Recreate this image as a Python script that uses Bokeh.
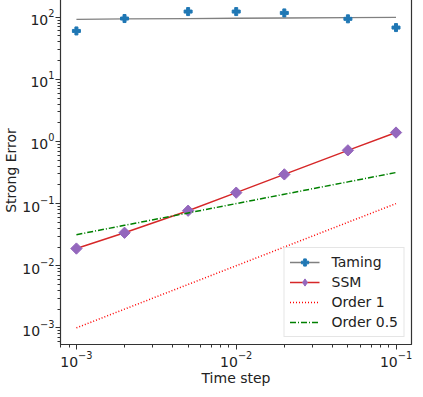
import numpy as np
from bokeh.plotting import figure
from bokeh.models import Range1d, Legend, LegendItem, LogTicker
from bokeh.embed import file_html
from bokeh.resources import INLINE

dt = [0.001, 0.002, 0.005, 0.01, 0.02, 0.05, 0.1]
taming = [60, 95, 123, 123, 117, 94, 68]
taming_fit = [92, 93.5, 95, 96, 97, 98.5, 99.5]
ssm = [0.0189, 0.0339, 0.0768, 0.150, 0.295, 0.719, 1.39]
order1 = [1e-3, 2e-3, 5e-3, 1e-2, 2e-2, 5e-2, 1e-1]
order05 = [0.0316, 0.0447, 0.0707, 0.1, 0.1414, 0.2236, 0.3162]

FONT = "DejaVu Sans"

p = figure(width=415, height=394, x_axis_type="log", y_axis_type="log",
           output_backend="svg", toolbar_location=None,
           x_range=Range1d(7.95e-4, 0.125), y_range=Range1d(5.4e-4, 215),
           min_border_top=2, min_border_right=4, min_border_left=0, min_border_bottom=0)
p.styles = {"margin-top": "-6px"}

p.xgrid.visible = False
p.ygrid.visible = False
p.outline_line_color = "#333333"
p.outline_line_width = 1.2

for ax in (p.xaxis[0], p.yaxis[0]):
    ax.major_label_text_font = FONT
    ax.major_label_text_font_size = "14px"
    ax.major_label_text_color = "#222222"
    ax.major_label_standoff = 1
    ax.axis_label_text_font = FONT
    ax.axis_label_text_font_size = "14px"
    ax.axis_label_text_font_style = "normal"
    ax.axis_label_text_color = "#222222"
    ax.axis_line_color = "#333333"
    ax.major_tick_line_color = "#333333"
    ax.minor_tick_line_color = "#333333"
    ax.major_tick_out = 5
    ax.major_tick_in = 0
    ax.minor_tick_out = 3
    ax.minor_tick_in = 0
    ax.ticker = LogTicker(num_minor_ticks=10)

p.xaxis.axis_label = "Time step"
p.yaxis.axis_label = "Strong Error"
p.xaxis.axis_label_standoff = 0
p.yaxis.axis_label_standoff = 0

r_tfit = p.line(dt, taming_fit, line_color="grey", line_width=1.3)
r_tpts = p.scatter(dt, taming, marker="plus", size=8, color="#1f77b4")
r_sline = p.line(dt, ssm, line_color="#d62728", line_width=1.5)
r_spts = p.scatter(dt, ssm, marker="square", angle=np.pi / 4, size=8, color="#9467bd")
r_sleg = p.scatter([np.nan], [np.nan], marker="diamond", size=13, color="#9467bd")
r_o1 = p.line(dt, order1, line_color="red", line_dash="1 2", line_width=1.5)
r_o05 = p.line(dt, order05, line_color="green", line_dash="6 2 1 2", line_width=1.5)

legend = Legend(items=[
    LegendItem(label="Taming", renderers=[r_tfit, r_tpts]),
    LegendItem(label="SSM", renderers=[r_sline, r_sleg]),
    LegendItem(label="Order 1", renderers=[r_o1]),
    LegendItem(label="Order 0.5", renderers=[r_o05]),
], location="bottom_right")
legend.label_text_font = FONT
legend.label_text_font_size = "14px"
legend.label_text_color = "#222222"
legend.border_line_color = "#cccccc"
legend.border_line_width = 1
legend.glyph_width = 30
legend.glyph_height = 18
legend.label_height = 18
legend.spacing = 2
legend.padding = 5
legend.margin = 7
legend.label_standoff = 12
p.add_layout(legend)

open("out.html", "w").write(file_html(p, INLINE))
